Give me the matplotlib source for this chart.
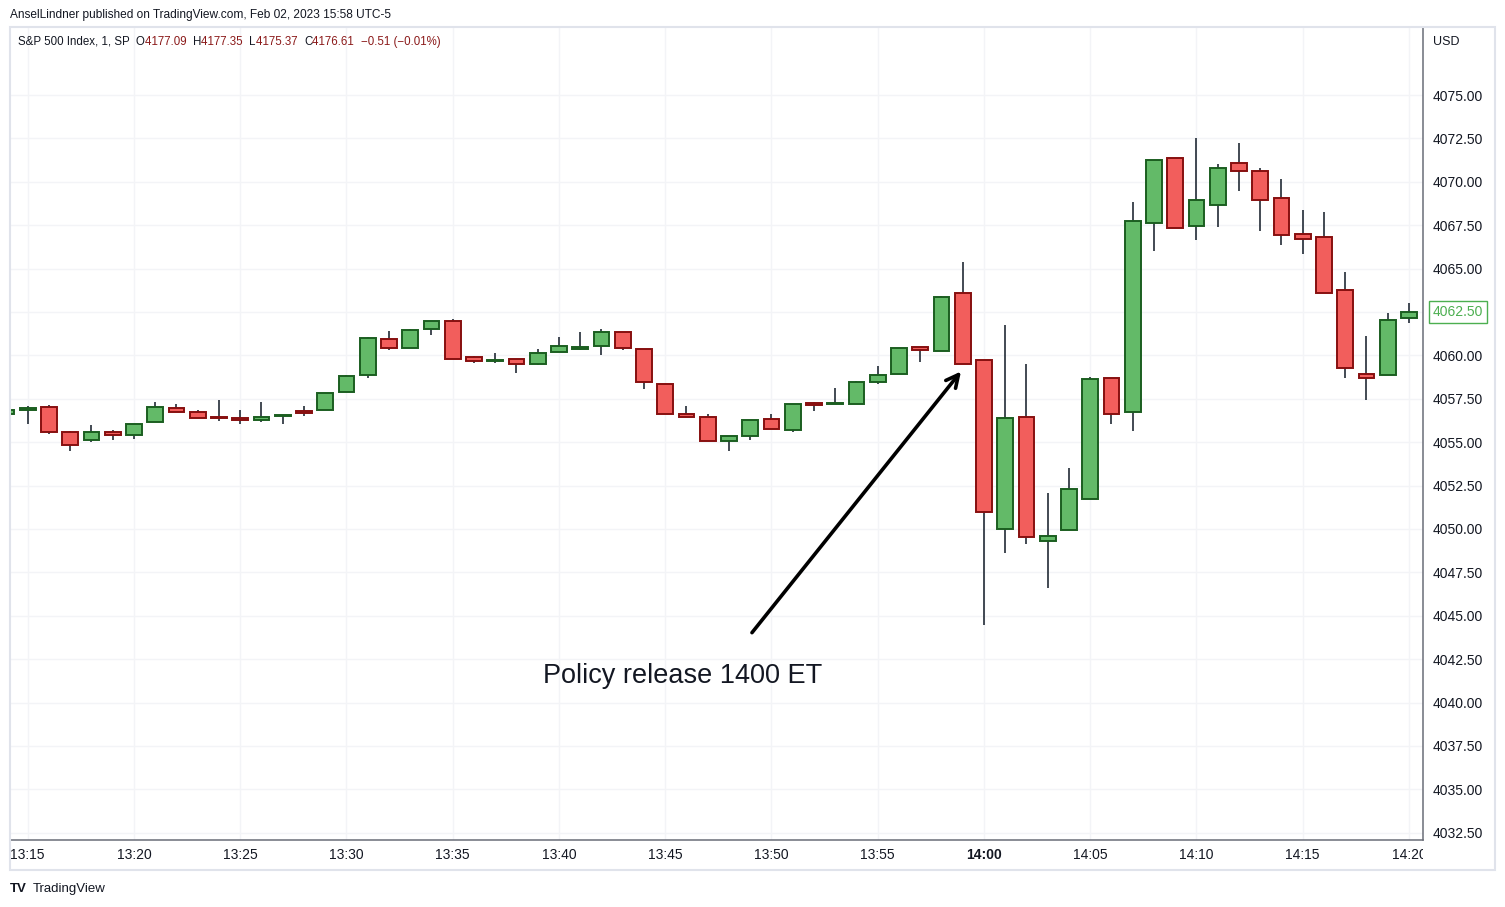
import matplotlib.pyplot as plt
from matplotlib.patches import Rectangle
from matplotlib.transforms import Bbox, TransformedBbox

plt.rcParams['font.family'] = ['Liberation Sans', 'DejaVu Sans']

# 1-minute candles, 13:14 .. 14:20
times = ['13:14', '13:15', '13:16', '13:17', '13:18', '13:19', '13:20', '13:21', '13:22', '13:23',
         '13:24', '13:25', '13:26', '13:27', '13:28', '13:29', '13:30', '13:31', '13:32', '13:33',
         '13:34', '13:35', '13:36', '13:37', '13:38', '13:39', '13:40', '13:41', '13:42', '13:43',
         '13:44', '13:45', '13:46', '13:47', '13:48', '13:49', '13:50', '13:51', '13:52', '13:53',
         '13:54', '13:55', '13:56', '13:57', '13:58', '13:59', '14:00', '14:01', '14:02', '14:03',
         '14:04', '14:05', '14:06', '14:07', '14:08', '14:09', '14:10', '14:11', '14:12', '14:13',
         '14:14', '14:15', '14:16', '14:17', '14:18', '14:19', '14:20']
opens = [4056.62, 4056.84, 4057.01, 4055.57, 4055.11, 4055.57, 4055.40, 4056.15, 4056.95, 4056.72,
         4056.44, 4056.38, 4056.26, 4056.49, 4056.78, 4056.84, 4057.87, 4058.85, 4060.93, 4060.41,
         4061.51, 4061.96, 4059.89, 4059.67, 4059.78, 4059.49, 4060.18, 4060.36, 4060.52, 4061.33,
         4060.35, 4058.33, 4056.61, 4056.44, 4055.06, 4055.34, 4056.32, 4055.69, 4057.24, 4057.18,
         4057.19, 4058.45, 4058.92, 4060.47, 4060.24, 4063.58, 4059.72, 4049.98, 4056.43, 4049.29,
         4049.93, 4051.71, 4058.68, 4056.72, 4067.61, 4071.35, 4067.44, 4068.65, 4071.07, 4070.61,
         4069.05, 4066.98, 4066.80, 4063.75, 4058.91, 4058.85, 4062.14]
highs = [4056.85, 4057.09, 4057.14, 4055.66, 4055.99, 4055.70, 4056.05, 4057.32, 4057.20, 4056.85,
         4057.43, 4056.85, 4057.32, 4056.57, 4057.08, 4057.82, 4058.85, 4061.08, 4061.41, 4061.52,
         4061.96, 4062.10, 4059.97, 4060.14, 4059.78, 4060.37, 4061.06, 4061.35, 4061.52, 4061.33,
         4060.35, 4058.33, 4057.09, 4056.61, 4055.34, 4056.26, 4056.61, 4057.18, 4057.30, 4058.10,
         4058.51, 4059.39, 4060.41, 4060.47, 4063.42, 4065.38, 4059.72, 4061.73, 4059.49, 4052.06,
         4053.50, 4058.76, 4058.68, 4068.84, 4071.24, 4071.35, 4072.52, 4071.03, 4072.24, 4070.78,
         4070.16, 4068.38, 4068.26, 4064.79, 4061.10, 4062.42, 4063.00]
lows = [4056.62, 4056.03, 4055.46, 4054.51, 4055.03, 4055.13, 4055.20, 4056.15, 4056.72, 4056.38,
        4056.24, 4056.07, 4056.18, 4056.07, 4056.53, 4056.84, 4057.87, 4058.72, 4060.31, 4060.41,
        4061.19, 4059.78, 4059.55, 4059.55, 4058.97, 4059.43, 4060.18, 4060.30, 4060.01, 4060.30,
        4058.08, 4056.64, 4056.44, 4055.06, 4054.47, 4055.11, 4055.75, 4055.57, 4056.78, 4057.18,
        4057.19, 4058.33, 4058.92, 4059.60, 4060.24, 4059.49, 4044.49, 4048.64, 4049.15, 4046.62,
        4049.93, 4051.71, 4056.03, 4055.66, 4066.03, 4067.32, 4066.67, 4067.41, 4069.49, 4067.18,
        4066.38, 4065.86, 4063.58, 4058.71, 4057.41, 4058.85, 4061.85]
closes = [4056.85, 4056.95, 4055.57, 4054.82, 4055.57, 4055.40, 4056.05, 4057.01, 4056.72, 4056.38,
          4056.38, 4056.26, 4056.44, 4056.57, 4056.67, 4057.82, 4058.80, 4060.98, 4060.41, 4061.45,
          4061.96, 4059.78, 4059.67, 4059.72, 4059.49, 4060.12, 4060.52, 4060.47, 4061.33, 4060.41,
          4058.45, 4056.64, 4056.44, 4055.06, 4055.34, 4056.26, 4055.75, 4057.18, 4057.13, 4057.24,
          4058.45, 4058.85, 4060.41, 4060.30, 4063.35, 4059.49, 4050.96, 4056.38, 4049.52, 4049.58,
          4052.29, 4058.62, 4056.64, 4067.72, 4071.24, 4067.32, 4068.93, 4070.78, 4070.61, 4068.93,
          4066.92, 4066.69, 4063.58, 4059.26, 4058.69, 4062.02, 4062.50]
price_ticks = [4032.5, 4035, 4037.5, 4040, 4042.5, 4045, 4047.5, 4050, 4052.5, 4055, 4057.5,
               4060, 4062.5, 4065, 4067.5, 4070, 4072.5, 4075]

up_fill, up_edge = '#63BA68', '#1B5E20'
dn_fill, dn_edge = '#F25E5C', '#870F0F'
wick_col = '#222B36'
grid_col = '#F3F4F7'

fig = plt.figure(figsize=(15.05, 9.07), dpi=100)
ax = fig.add_axes([10/1505, 1 - 840/907, 1413/1505, 813/907])

x = list(range(-1, len(times) - 1))  # 13:15 -> 0
for i, o, h, l, c in zip(x, opens, highs, lows, closes):
    up = c >= o
    ax.vlines(i, l, h, color=wick_col, lw=1.2, zorder=2)
    ax.bar(i, max(abs(c - o), 0.02), bottom=min(o, c), width=0.75,
           color=up_fill if up else dn_fill, edgecolor=up_edge if up else dn_edge,
           lw=1.4, zorder=3)

ax.set_xlim(-0.835, 65.66)
ax.set_ylim(4032.08, 4078.92)

xt = [i for i, t in zip(x, times) if t.endswith('0') or t.endswith('5')]
xl = [t for t in times if t.endswith('0') or t.endswith('5')]
ax.set_xticks(xt)
ax.set_xticklabels(xl, fontsize=10, color='#131722')
clip = TransformedBbox(Bbox([[0, 0], [1423/1505, 1]]), fig.transFigure)
for lbl in ax.get_xticklabels():
    if lbl.get_text() == '14:00':
        lbl.set_fontweight('bold')
    lbl.set_clip_on(True)
    lbl.set_clip_box(clip)
ax.yaxis.tick_right()
ax.set_yticks(price_ticks)
# the last-price box covers the 4062.50 tick label
ax.set_yticklabels(['' if p == closes[-1] else '%.2f' % p for p in price_ticks],
                   fontsize=10, color='#131722')
ax.tick_params(axis='both', length=0)
ax.tick_params(axis='x', pad=6)
ax.tick_params(axis='y', pad=7)
ax.grid(True, color=grid_col, lw=1, zorder=0)
ax.set_axisbelow(True)
for s in ['top', 'left']:
    ax.spines[s].set_visible(False)
for s in ['right', 'bottom']:
    ax.spines[s].set_color('#6A6D78')
    ax.spines[s].set_linewidth(1.1)

# annotation
ax.annotate('', xy=(44.0, 4059.2), xytext=(34.0, 4043.9),
            arrowprops=dict(arrowstyle='->,head_length=0.9,head_width=0.45', lw=2.6, color='#000000'),
            zorder=5)
ax.text(30.8, 4041.5, 'Policy release 1400 ET', fontsize=19.5, ha='center', va='center',
        color='#131722', zorder=5)

# last price label
ax.text(1.0 + 35/1413, closes[-1], '%.2f' % closes[-1], transform=ax.get_yaxis_transform(),
        fontsize=10, color='#4CAF50', ha='center', va='center',
        bbox=dict(boxstyle='square,pad=0.3', fc='white', ec='#4CAF50', lw=1))

# header texts
fig.text(10/1505, 1 - 15/907, 'AnselLindner published on TradingView.com, Feb 02, 2023 15:58 UTC-5',
         fontsize=8.6, color='#131722', va='center')
header = [('S&P 500 Index, 1, SP  ', '#131722'), ('O', '#131722'), ('4177.09  ', '#8B1A1A'),
          ('H', '#131722'), ('4177.35  ', '#8B1A1A'), ('L', '#131722'), ('4175.37  ', '#8B1A1A'),
          ('C', '#131722'), ('4176.61  ', '#8B1A1A'), ('\u22120.51 (\u22120.01%)', '#8B1A1A')]
xpos = 18 / 1505
renderer = fig.canvas.get_renderer()
for s, col in header:
    t = fig.text(xpos, 1 - 42/907, s, fontsize=8.3, color=col, va='center')
    bb = t.get_window_extent(renderer=renderer)
    xpos += bb.width / 1505
fig.text(1433/1505, 1 - 42/907, 'USD', fontsize=9, color='#131722', va='center')
fig.text(10/1505, 1 - 889/907, 'TV', fontsize=9.5, color='#131722', va='center', fontweight='bold')
fig.text(33/1505, 1 - 889/907, 'TradingView', fontsize=9.5, color='#131722', va='center')

# outer frame
fig.patches.append(Rectangle((10/1505, 1 - 870/907), 1485/1505, 843/907, transform=fig.transFigure,
                             fill=False, ec='#E0E3EB', lw=1.5))

fig.savefig('out.png', dpi=100)
